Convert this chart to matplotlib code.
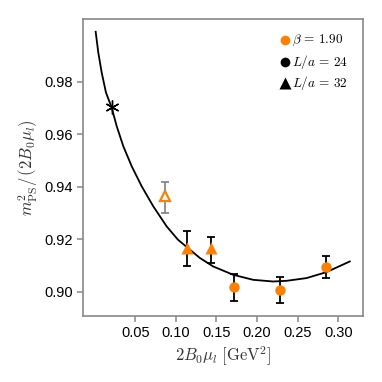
import numpy as np
import matplotlib
matplotlib.use("Agg")
from matplotlib import pyplot as plt

plt.rcParams['mathtext.fontset'] = 'cm'
plt.rcParams['font.family'] = ['Liberation Sans', 'DejaVu Sans']

naranja = '#ff8000'
gris = '#888888'

# curva del ajuste
curva_x = [0.00135, 0.00455, 0.00873, 0.01402, 0.02103, 0.02718, 0.03530, 0.04563,
           0.05793, 0.07220, 0.08868, 0.1026, 0.1137, 0.1297, 0.1460, 0.1706,
           0.1952, 0.2198, 0.2363, 0.2609, 0.2855, 0.3141]
curva_y = [0.99895, 0.99108, 0.98344, 0.97580, 0.97006, 0.96303, 0.95539, 0.94775,
           0.94011, 0.93247, 0.92482, 0.91974, 0.91687, 0.91275, 0.90954, 0.90637,
           0.90445, 0.90381, 0.90407, 0.90511, 0.90740, 0.91145]

# punto extrapolado
estrella_x = [0.0218]
estrella_y = [0.9701]

# L/a = 24 (circulos)
c_x = [0.171, 0.2277, 0.2843]
c_y = [0.9017, 0.9004, 0.9093]
c_err_sup = [0.9067, 0.9054, 0.9135]
c_err_inf = [0.8963, 0.8956, 0.9050]

# L/a = 32 (triangulos)
t_x = [0.114, 0.1428]
t_y = [0.9166, 0.9166]
t_err_sup = [0.9229, 0.9209]
t_err_inf = [0.9099, 0.9108]

# triangulo abierto
ta_x = [0.0862]
ta_y = [0.9363]
ta_err_sup = [0.9419]
ta_err_inf = [0.9300]

figura = plt.figure(figsize=(3.82, 3.82), dpi=100)
ax = figura.add_axes([0.218, 0.173, 0.7315, 0.7765])

ax.plot(curva_x, curva_y, color='black', lw=1.3, zorder=2, solid_joinstyle='round')
ax.plot(estrella_x, estrella_y, marker=(6, 2, 0), ms=10, color='black', mew=1.0, ls='none', zorder=3)

def barras(x, y, sup, inf, color):
    y = np.array(y)
    err = [y - np.array(inf), np.array(sup) - y]
    ax.errorbar(x, y, yerr=err, fmt='none', ecolor=color, elinewidth=1.3,
                capsize=3, capthick=1.3, zorder=3)

barras(c_x, c_y, c_err_sup, c_err_inf, 'black')
barras(t_x, t_y, t_err_sup, t_err_inf, 'black')
barras(ta_x, ta_y, ta_err_sup, ta_err_inf, gris)

ax.plot(c_x, c_y, 'o', color=naranja, ms=7.5, mec='none', zorder=4)
ax.plot(t_x, t_y, '^', color=naranja, ms=8, mec='none', zorder=4)
ax.plot(ta_x, ta_y, '^', mfc='white', mec=naranja, mew=1.6, ms=7.5, zorder=4)

ax.set_xlim(-0.0139, 0.330)
ax.set_ylim(0.8907, 1.0037)
ax.set_xticks([0.05, 0.10, 0.15, 0.20, 0.25, 0.30])
ax.set_xticklabels(['0.05', '0.10', '0.15', '0.20', '0.25', '0.30'])
ax.set_yticks([0.90, 0.92, 0.94, 0.96, 0.98])
ax.set_yticklabels(['0.90', '0.92', '0.94', '0.96', '0.98'])

for lado in ax.spines.values():
    lado.set_color(gris)
    lado.set_linewidth(1.2)
ax.tick_params(which='both', top=False, right=False, direction='out', length=4.3,
               width=1.1, color=gris, labelsize=10.5, pad=3.3)

ax.set_xlabel(r'$2B_0\mu_l\;[\mathrm{GeV}^2]$', fontsize=12, color='#333333', labelpad=3)
ax.set_ylabel(r'$m^2_{\mathrm{PS}}/\,(2B_0\mu_l)$', fontsize=12, color='#333333', labelpad=3)

# leyenda
ley_x = [0.2342, 0.2342, 0.2342]
ley_y = [0.99567, 0.98749, 0.97935]
ax.plot(ley_x[0], ley_y[0], 'o', color=naranja, ms=7, mec='none')
ax.plot(ley_x[1], ley_y[1], 'o', color='black', ms=7, mec='none')
ax.plot(ley_x[2], ley_y[2], '^', color='black', ms=8, mec='none')
textos = [r'$\beta\,=\,1.90$', r'$L/a\,=\,24$', r'$L/a\,=\,32$']
for yy, tt in zip(ley_y, textos):
    ax.text(0.2435, yy, tt, fontsize=9.5, va='center', ha='left')

figura.savefig('out.png', dpi=100)
